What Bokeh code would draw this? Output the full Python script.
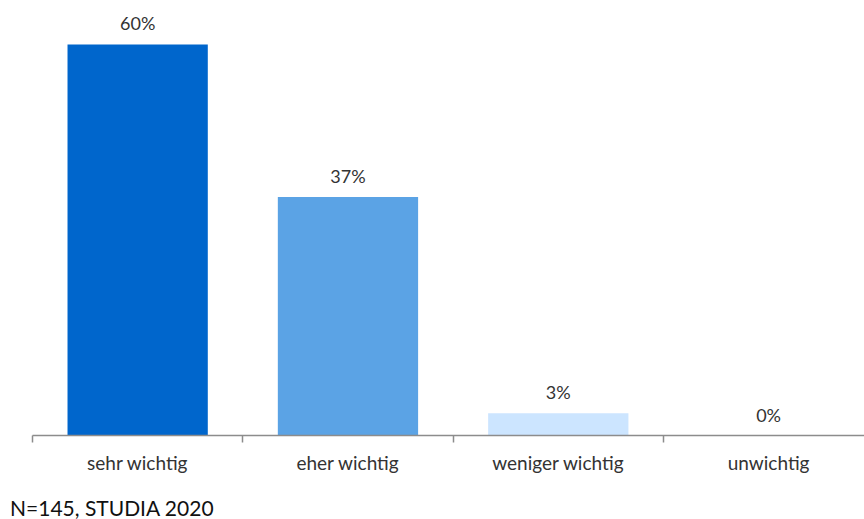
from bokeh.plotting import figure
from bokeh.models import Range1d, FixedTicker, ColumnDataSource, Div
from bokeh.layouts import column
from bokeh.core.properties import value
from bokeh.embed import file_html
from bokeh.resources import INLINE

categories = ["sehr wichtig", "eher wichtig", "weniger wichtig", "unwichtig"]
values = [60.0, 36.6, 3.4, 0.0]
labels = ["60%", "37%", "3%", "0%"]
colors = ["#0066CC", "#5BA3E5", "#CCE5FF", "#FFFFFF"]
footnote = "N=145, STUDIA 2020"

FONT = "Lato"
TXT = "#333333"

xs = [i + 0.5 for i in range(len(categories))]
src = ColumnDataSource(dict(x=xs, top=values, color=colors, label=labels))

p = figure(width=864, height=493, output_backend="svg", toolbar_location=None,
           x_range=Range1d(0, 3.956), y_range=Range1d(0, 66.75),
           min_border_left=32, min_border_right=0, min_border_top=0, min_border_bottom=58)
p.outline_line_color = None
p.xgrid.visible = False
p.ygrid.visible = False
p.yaxis.visible = False
p.background_fill_color = "white"
p.border_fill_color = "white"

p.vbar(x="x", top="top", width=0.667, bottom=0, fill_color="color", line_color=None, source=src)
p.text(x="x", y="top", text="label", source=src, y_offset=-21,
       text_align="center", text_baseline="alphabetic",
       text_font=value(FONT), text_font_size="18px", text_color=TXT)

ax = p.xaxis[0]
ax.ticker = FixedTicker(ticks=xs, minor_ticks=list(range(len(categories) + 1)))
ax.major_label_overrides = {x: c for x, c in zip(xs, categories)}
ax.major_tick_line_color = None
ax.major_tick_out = 0
ax.major_tick_in = 0
ax.minor_tick_line_color = "#8C8C8C"
ax.minor_tick_line_width = 1.5
ax.minor_tick_out = 7
ax.minor_tick_in = 0
ax.axis_line_color = "#8C8C8C"
ax.axis_line_width = 1.5
ax.major_label_standoff = 8
ax.major_label_text_font = FONT
ax.major_label_text_font_size = "19px"
ax.major_label_text_color = TXT

foot = Div(text=footnote, width=854, height=26, margin=(0, 0, 0, 10),
           styles={"font-family": FONT, "font-size": "21px", "color": "#111111",
                   "line-height": "30px", "white-space": "nowrap"})

layout = column(p, foot, spacing=0)
open("out.html", "w").write(file_html(layout, INLINE))
